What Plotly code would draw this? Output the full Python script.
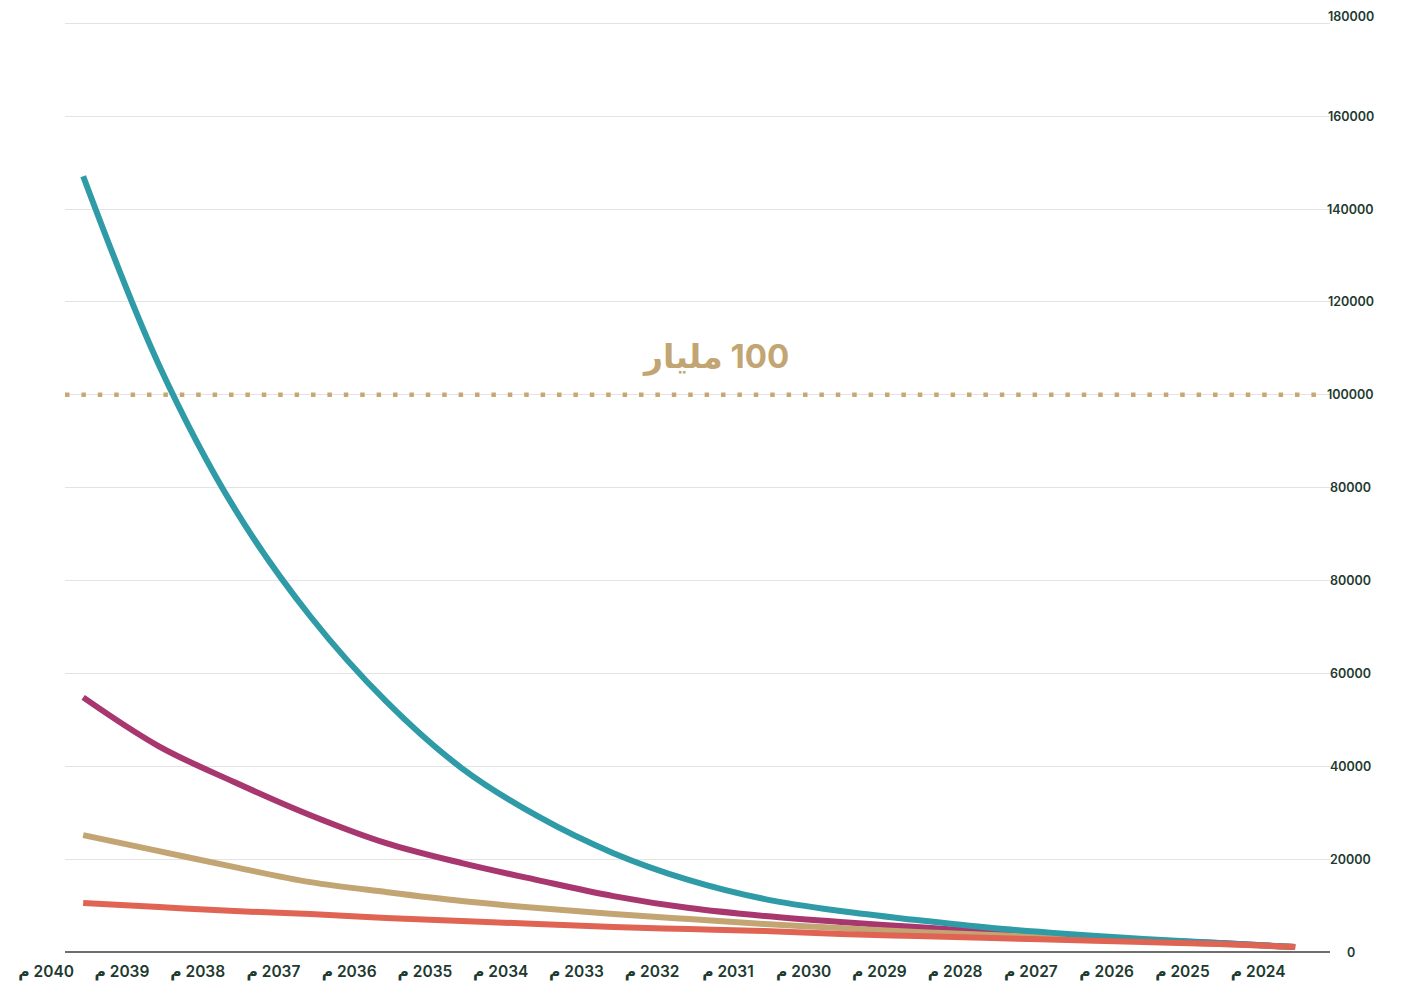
import plotly.graph_objects as go

years = list(range(2024, 2041))
year_labels = ["\u200f%d م" % y for y in years]

# values (positional axis units), 2024 -> 2040
teal = [1075, 1935, 2796, 3871, 5161, 6882, 8817, 11398, 15484, 21290, 29247,
        39569, 53978, 72257, 95482, 126449, 167094]
magenta = [1075, 1935, 2581, 3441, 4301, 5376, 6452, 7742, 9462, 12043, 15484,
           19140, 23440, 29462, 36559, 44300, 54838]
gold = [1075, 1720, 2366, 3011, 3656, 4301, 5161, 6021, 7097, 8172, 9462,
        10968, 12903, 15054, 18279, 21720, 25161]
red = [1075, 1720, 2151, 2581, 3011, 3441, 3871, 4516, 4946, 5376, 6021,
       6667, 7312, 8172, 8817, 9677, 10537]

grid_vals = [0, 20000, 40000, 60000, 80000, 100000, 120000, 140000, 160000, 180000, 200000]
grid_text = ["0", "20000", "40000", "60000", "80000", "80000", "100000",
             "120000", "140000", "160000", "180000"]
threshold = 120000
threshold_label = "\u200f100 مليار"

TICK_COLOR = "#1e3a2f"
FONT = "Inter, Noto Sans, DejaVu Sans"
fig = go.Figure()

series = [
    ("magenta", magenta, "#a8376f"),
    ("gold", gold, "#c2a572"),
    ("teal", teal, "#2e9ba6"),
    ("red", red, "#e06453"),
]
for name, vals, col in series:
    fig.add_trace(go.Scatter(
        x=years, y=vals, mode="lines", name=name,
        line=dict(color=col, width=6, shape="spline", smoothing=1.0),
        showlegend=False, hoverinfo="skip"))

fig.add_shape(type="line", xref="paper", yref="y", x0=0, x1=0.996,
              y0=threshold, y1=threshold,
              line=dict(color="#c7a872", width=4.5, dash="4.5px,11.9px"))

fig.add_annotation(xref="paper", yref="y", x=0.514, y=threshold + 8300,
                   text=threshold_label, showarrow=False,
                   font=dict(family=FONT, size=33, color="#c2a572", weight=700))

for v, t in zip(grid_vals, grid_text):
    fig.add_annotation(xref="paper", yref="y", x=1.0166, y=v, text=t,
                       showarrow=False, xanchor="center", yanchor="middle",
                       yshift=(7 if v == 200000 else 0),
                       font=dict(family=FONT, size=12.5, color=TICK_COLOR, weight=600))

fig.update_layout(
    width=1394, height=978,
    margin=dict(l=57, r=72, t=14, b=34, autoexpand=False),
    paper_bgcolor="white", plot_bgcolor="white",
    xaxis=dict(range=[2040.24, 2023.54], tickvals=years, ticktext=year_labels,
               showgrid=False, zeroline=False, showline=False, ticks="",
               automargin=False,
               ticklabelshift=37, ticklabelstandoff=8,
               tickfont=dict(family=FONT, size=15.5, color=TICK_COLOR, weight=600)),
    yaxis=dict(range=[0, 200300], tickvals=grid_vals, showticklabels=False,
               showgrid=True, gridcolor="#e3e3e3", gridwidth=1, automargin=False,
               zeroline=True, zerolinecolor="#6e6e6e", zerolinewidth=1.5,
               showline=False, ticks=""),
)

fig.write_html("out.html")
